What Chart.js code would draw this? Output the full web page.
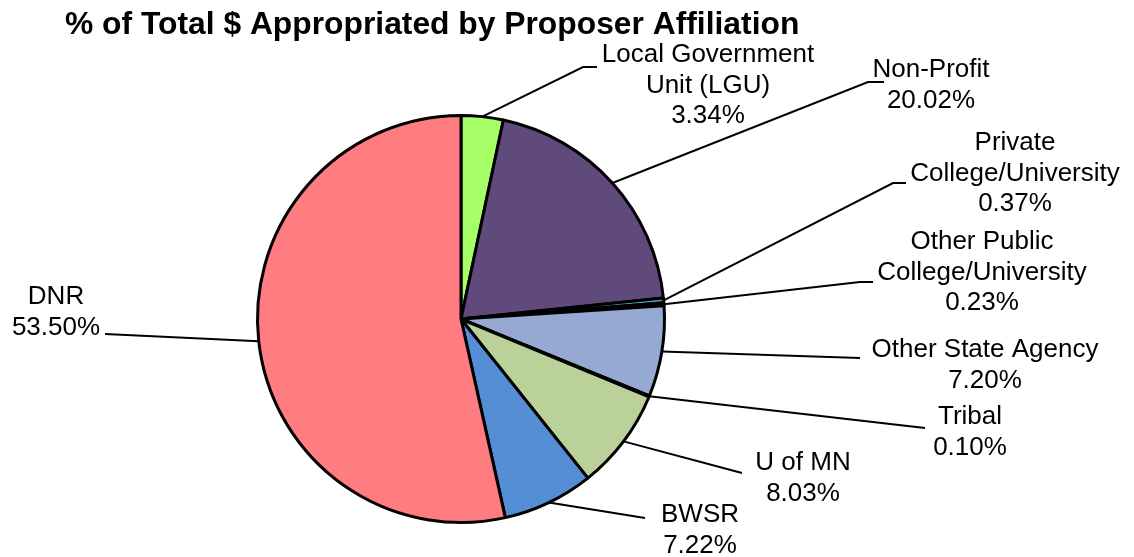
<!DOCTYPE html>
<html>
<head>
<meta charset="utf-8">
<script src="https://cdn.jsdelivr.net/npm/chart.js@4/dist/chart.umd.min.js"></script>
<style>
  html, body { margin: 0; padding: 0; background: #fff; }
  #wrap { width: 1134px; height: 557px; position: relative; }
</style>
</head>
<body>
<div id="wrap"><canvas id="myChart" width="1134" height="557"></canvas></div>
<script>
// datos del grafico
const categorias = [
  "Local Government Unit (LGU)", "Non-Profit", "Private College/University",
  "Other Public College/University", "Other State Agency", "Tribal",
  "U of MN", "BWSR", "DNR"
];
const porcentajes = [3.34, 20.02, 0.37, 0.23, 7.20, 0.10, 8.03, 7.22, 53.50];
const etiquetas = [
  ["Local Government", "Unit (LGU)"],
  ["Non-Profit"],
  ["Private", "College/University"],
  ["Other Public", "College/University"],
  ["Other State Agency"],
  ["Tribal"],
  ["U of MN"],
  ["BWSR"],
  ["DNR"]
];
const colores = ["#A6FF66", "#604A7B", "#4BACC6", "#2C4D75", "#95A9D3", "#7F7F7F", "#BBD19A", "#558ED5", "#FF7C80"];

// posicion de cada etiqueta (texto y linea guia)
const posiciones = [
  { tx: 708, ty: 55, linea: [[583, 67], [597, 67]] },
  { tx: 931, ty: 70, linea: [[868, 82], [884, 82]] },
  { tx: 1015, ty: 143, linea: [[893, 183], [906, 183]] },
  { tx: 982, ty: 242, linea: [[860, 282], [873, 282]] },
  { tx: 985, ty: 350, linea: [[860, 358]] },
  { tx: 970, ty: 417, linea: [[925, 428]] },
  { tx: 803, ty: 463, linea: [[742, 473]] },
  { tx: 700, ty: 515, linea: [[645, 518]] },
  { tx: 56, ty: 297, linea: [[105, 334]] }
];

const etiquetasPlugin = {
  id: "etiquetas",
  afterDraw(chart) {
    const ctx = chart.ctx;
    const meta = chart.getDatasetMeta(0);
    ctx.save();
    ctx.fillStyle = "#000";
    ctx.font = "bold 31.8px 'Liberation Sans', Arial, sans-serif";
    ctx.textAlign = "left";
    ctx.textBaseline = "middle";
    ctx.fillText("% of Total $ Appropriated by Proposer Affiliation", 65, 25);

    ctx.font = "26px 'Liberation Sans', Arial, sans-serif";
    ctx.textAlign = "center";
    ctx.textBaseline = "middle";
    ctx.strokeStyle = "#000";
    ctx.lineWidth = 2;
    meta.data.forEach(function (arc, i) {
      const p = posiciones[i];
      const mid = (arc.startAngle + arc.endAngle) / 2;
      const sx = arc.x + Math.cos(mid) * arc.outerRadius;
      const sy = arc.y + Math.sin(mid) * arc.outerRadius;
      ctx.beginPath();
      ctx.moveTo(sx, sy);
      p.linea.forEach(function (pt) { ctx.lineTo(pt[0], pt[1]); });
      ctx.stroke();
      const lineas = etiquetas[i].concat([porcentajes[i].toFixed(2) + "%"]);
      lineas.forEach(function (t, j) {
        ctx.fillText(t, p.tx, p.ty + j * 30.5);
      });
    });
    ctx.restore();
  }
};

const ctx = document.getElementById("myChart").getContext("2d");
let myChart = new Chart(ctx, {
  type: "pie",
  data: {
    labels: categorias,
    datasets: [{
      data: porcentajes,
      backgroundColor: colores,
      borderColor: "#000",
      borderWidth: 3
    }]
  },
  options: {
    responsive: false,
    animation: false,
    layout: { padding: { left: 256, right: 468, top: 114, bottom: 33 } },
    plugins: {
      legend: { display: false },
      tooltip: { enabled: false }
    }
  },
  plugins: [etiquetasPlugin]
});
</script>
</body>
</html>
